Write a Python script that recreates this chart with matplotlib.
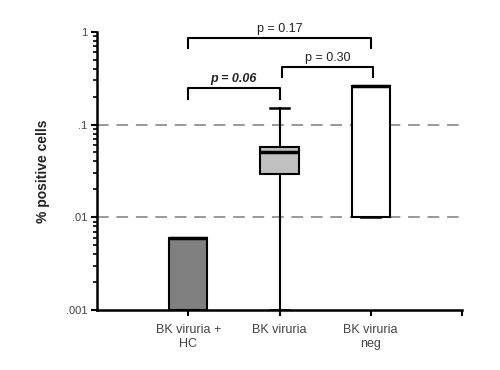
import matplotlib
matplotlib.use('Agg')
import matplotlib.pyplot as plt
from matplotlib.ticker import FixedLocator, LogLocator, NullFormatter

plt.rcParams['font.family'] = ['Liberation Sans', 'DejaVu Sans']

# Données
groupes = ['BK viruria +\nHC', 'BK viruria', 'BK viruria\nneg']
whis_bas = [0.001, 0.001, 0.01]
q1 = [0.001, 0.029, 0.01]
mediane = [0.006, 0.050, 0.26]
q3 = [0.006, 0.058, 0.26]
whis_haut = [0.006, 0.15, 0.26]
couleurs = ['#808080', '#c0c0c0', '#ffffff']

# Comparaisons (groupe a, groupe b, hauteur, texte, style)
comp_a = [1, 1, 2.03]
comp_b = [3, 2, 3.02]
comp_y = [0.86, 0.245, 0.42]
comp_txt = ['p = 0.17', 'p = 0.06', 'p = 0.30']
comp_gras = [False, True, False]

fig = plt.figure(figsize=(5, 3.7), dpi=100)
ax = fig.add_axes([0.194, 0.162, 0.73, 0.752])

stats = []
for i in range(3):
    stats.append({'whislo': whis_bas[i], 'q1': q1[i], 'med': mediane[i],
                  'q3': q3[i], 'whishi': whis_haut[i], 'fliers': []})

bp = ax.bxp(stats, positions=[1, 2, 3], widths=0.42, capwidths=0.21,
            showfliers=False, patch_artist=True,
            boxprops=dict(edgecolor='black', linewidth=1.5),
            medianprops=dict(color='black', linewidth=2.5),
            whiskerprops=dict(color='black', linewidth=1.5),
            capprops=dict(color='black', linewidth=1.8))
for patch, c in zip(bp['boxes'], couleurs):
    patch.set_facecolor(c)

for y in [0.1, 0.01]:
    ax.plot([0, 4], [y, y], color='#999999', linewidth=1.4,
            dashes=(6, 4), zorder=0)

for a, b, y, t, g in zip(comp_a, comp_b, comp_y, comp_txt, comp_gras):
    ax.plot([a, a, b, b], [y * 0.77, y, y, y * 0.77], color='black',
            linewidth=1.5, clip_on=False)
    ax.text((a + b) / 2, y * 1.08, t, ha='center', va='bottom',
            fontsize=9, color='#222222',
            fontweight='bold' if g else 'normal',
            fontstyle='italic' if g else 'normal')

ax.set_yscale('log')
ax.set_ylim(0.001, 1)
ax.set_xlim(0, 4)
ax.yaxis.set_major_locator(FixedLocator([0.001, 0.01, 0.1, 1]))
ax.set_yticklabels(['.001', '.01', '.1', '1'])
ax.yaxis.set_minor_locator(LogLocator(base=10, subs=range(2, 10)))
ax.yaxis.set_minor_formatter(NullFormatter())
ax.set_xticks([1, 2, 3, 4])
ax.set_xticklabels(groupes + [''])

ax.tick_params(axis='y', which='major', length=4, width=1.5,
               labelsize=8, labelcolor='#444444', pad=3)
ax.tick_params(axis='y', which='minor', length=3, width=1.2)
ax.tick_params(axis='x', length=4, width=1.5, labelsize=9,
               labelcolor='#444444', pad=6)

for s in ['top', 'right']:
    ax.spines[s].set_visible(False)
for s in ['left', 'bottom']:
    ax.spines[s].set_linewidth(1.8)

ax.set_ylabel('% positive cells', fontsize=10, fontweight='bold',
              color='#222222', labelpad=11)

plt.savefig('out.png', dpi=100)
